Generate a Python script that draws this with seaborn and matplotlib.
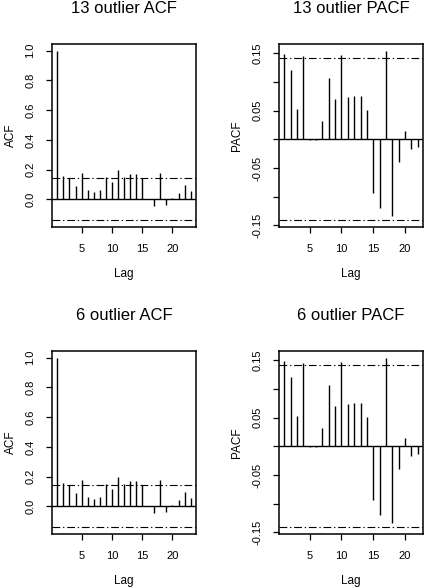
import numpy as np
import pandas as pd
import matplotlib
matplotlib.use("Agg")
import matplotlib.pyplot as plt
import seaborn as sns

# ---- data ----
acf_lags = list(range(1, 24))
acf_vals = [1.0, 0.157, 0.141, 0.090, 0.175, 0.061, 0.049, 0.061, 0.148, 0.114,
            0.197, 0.148, 0.170, 0.168, 0.143, 0.0, -0.043, 0.175, -0.036, 0.007,
            0.040, 0.096, 0.056]
pacf_lags = list(range(1, 23))
pacf_vals = [0.149, 0.121, 0.053, 0.145, -0.002, -0.002, 0.032, 0.107, 0.070, 0.146,
             0.074, 0.076, 0.076, 0.051, -0.093, -0.119, 0.154, -0.133, -0.039, 0.0145,
             -0.017, -0.013]
ci_bound = 0.141
titles = ["13 outlier ACF", "13 outlier PACF", "6 outlier ACF", "6 outlier PACF"]
x_ticks = [5, 10, 15, 20]
acf_yticks = [0.0, 0.2, 0.4, 0.6, 0.8, 1.0]
acf_yticklabels = ["0.0", "0.2", "0.4", "0.6", "0.8", "1.0"]
pacf_yticks = [-0.15, -0.10, -0.05, 0.0, 0.05, 0.10, 0.15]
pacf_yticklabels = ["-0.15", "", "-0.05", "", "0.05", "", "0.15"]

sns.set_style("white")
plt.rcParams['font.family'] = ['Liberation Sans', 'DejaVu Sans']
plt.rcParams['axes.unicode_minus'] = False
for k in ['text.color', 'axes.labelcolor', 'xtick.color', 'ytick.color', 'axes.edgecolor']:
    plt.rcParams[k] = 'black'

W, H = 424, 587
fig = plt.figure(figsize=(W / 100, H / 100), dpi=100)

def rect(l, t, r, b):
    return [l / W, 1 - b / H, (r - l) / W, (b - t) / H]

rects = [rect(52, 44, 196, 227), rect(279, 44, 423, 227),
         rect(52, 351, 196, 534), rect(279, 351, 423, 534)]

dashdot = (0, (7, 2.5, 1.2, 2.5))

for i, (r, title) in enumerate(zip(rects, titles)):
    ax = fig.add_axes(r)
    is_acf = (i % 2 == 0)
    if is_acf:
        df = pd.DataFrame({"Lag": acf_lags, "val": acf_vals})
    else:
        df = pd.DataFrame({"Lag": pacf_lags, "val": pacf_vals})
    ax.vlines(df["Lag"], 0, df["val"], color="black", linewidth=1.0)
    ax.axhline(0, color="black", linewidth=1.0)
    ax.axhline(ci_bound, color="black", linewidth=0.8, linestyle=dashdot)
    ax.axhline(-ci_bound, color="black", linewidth=0.8, linestyle=dashdot)
    n = len(df)
    pad = 0.04 * (n - 1)
    ax.set_xlim(1 - pad, n + pad)
    if is_acf:
        lo, hi = -ci_bound, 1.0
        ax.set_yticks(acf_yticks)
        ax.set_yticklabels(acf_yticklabels)
        ax.set_ylabel("ACF", fontsize=8.5, labelpad=6)
    else:
        lo, hi = -ci_bound, max(pacf_vals)
        ax.set_yticks(pacf_yticks)
        ax.set_yticklabels(pacf_yticklabels)
        ax.set_ylabel("PACF", fontsize=8.5, labelpad=7)
    rng = hi - lo
    ax.set_ylim(lo - 0.04 * rng, hi + 0.04 * rng)
    ax.set_xticks(x_ticks)
    ax.set_xlabel("Lag", fontsize=8.5, labelpad=10)
    ax.tick_params(axis="both", direction="out", length=4, width=0.9,
                   labelsize=8, pad=8, left=True, bottom=True, colors="black")
    for lab in ax.get_yticklabels():
        lab.set_rotation(90)
        lab.set_va("center")
    for s in ax.spines.values():
        s.set_color("black")
        s.set_linewidth(1.1)
    ax.set_title(title, fontsize=12, pad=22, color="black")

fig.savefig("out.png", dpi=100)
